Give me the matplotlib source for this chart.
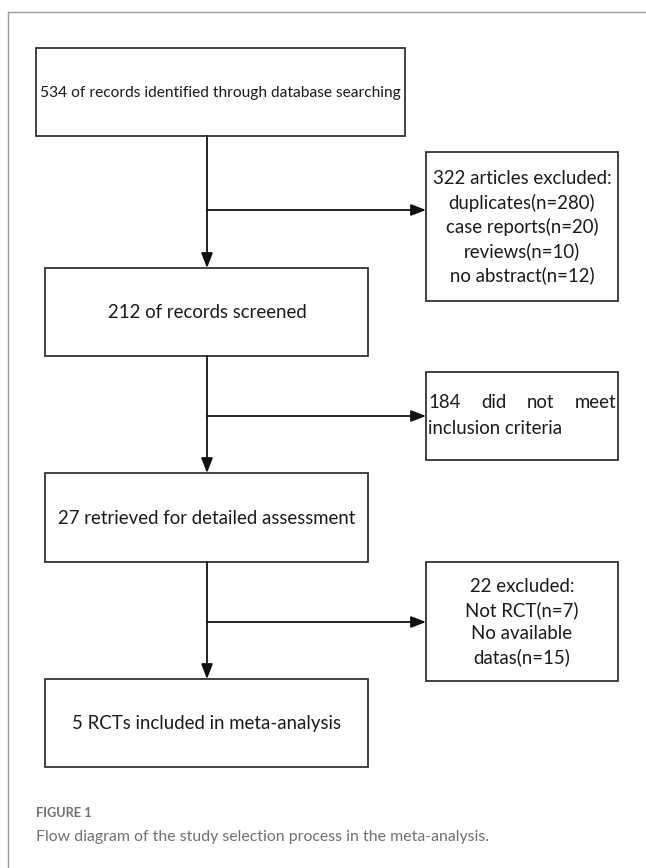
import matplotlib.pyplot as plt
from matplotlib.patches import Rectangle

plt.rcParams['font.family'] = ['Lato', 'DejaVu Sans']

# texts of the flow diagram
main_boxes = [
    '534 of records identified through database searching',
    '212 of records screened',
    '27 retrieved for detailed assessment',
    '5 RCTs included in meta-analysis',
]
excluded_boxes = [
    '322 articles excluded:\nduplicates(n=280)\ncase reports(n=20)\nreviews(n=10)\nno abstract(n=12)',
    None,  # justified text, drawn word by word below
    '22 excluded:\nNot RCT(n=7)\nNo available\ndatas(n=15)',
]
criteria_lines = [['184', 'did', 'not', 'meet'], ['inclusion', 'criteria']]
caption_head = 'FIGURE 1'
caption_text = 'Flow diagram of the study selection process in the meta-analysis.'

W, H = 646, 868
fig = plt.figure(figsize=(W / 100, H / 100), dpi=100)
ax = fig.add_axes([0, 0, 1, 1])
ax.set_xlim(0, W)
ax.set_ylim(H, 0)
ax.axis('off')

box_col = '#333333'
txt_col = '#1a1a1a'
lw = 1.3
fs = 13.4

# page frame (top + left rule)
ax.plot([8, W], [12, 12], color='#9a9a9a', lw=1.0)
ax.plot([8, 8], [12, H], color='#9a9a9a', lw=1.0)

# main boxes: (x0, y0, x1, y1)
main_geo = [(36, 48, 405, 136), (45, 268, 368, 356), (45, 473, 368, 562), (45, 679, 368, 767)]
for i, ((x0, y0, x1, y1), label) in enumerate(zip(main_geo, main_boxes)):
    ax.add_patch(Rectangle((x0, y0), x1 - x0, y1 - y0, fill=False, ec=box_col, lw=lw))
    ax.text((x0 + x1) / 2 if i == 0 else 207, (y0 + y1) / 2 + 1, label, ha='center', va='center',
            fontsize=11.2 if i == 0 else fs, color=txt_col)

# side boxes
side_geo = [(426, 152, 618, 301), (426, 372, 618, 460), (426, 562, 618, 681)]
for (x0, y0, x1, y1), label in zip(side_geo, excluded_boxes):
    ax.add_patch(Rectangle((x0, y0), x1 - x0, y1 - y0, fill=False, ec=box_col, lw=lw))
    if label:
        ax.text((x0 + x1) / 2, (y0 + y1) / 2 + 1, label, ha='center', va='center',
                fontsize=fs, color=txt_col, linespacing=1.42)

# justified text in the middle side box
fig.canvas.draw()
renderer = fig.canvas.get_renderer()
inv = ax.transData.inverted()
x0, x1 = 428, 616
for i, words in enumerate(criteria_lines):
    y = 403 + i * 25
    if i == len(criteria_lines) - 1:
        ax.text(x0, y, ' '.join(words), ha='left', va='center', fontsize=fs, color=txt_col)
        continue
    arts = [ax.text(0, y, w, ha='left', va='center', fontsize=fs, color=txt_col) for w in words]
    widths = []
    for a in arts:
        bb = a.get_window_extent(renderer)
        p0 = inv.transform((bb.x0, bb.y0))
        p1 = inv.transform((bb.x1, bb.y0))
        widths.append(p1[0] - p0[0])
    gap = (x1 - x0 - sum(widths)) / (len(words) - 1)
    x = x0
    for a, wd in zip(arts, widths):
        a.set_x(x)
        x += wd + gap

arrow = dict(arrowstyle='-|>,head_length=0.9,head_width=0.35', color='#111111', lw=lw,
             shrinkA=0, shrinkB=0)
# vertical arrows
for (_, _, _, ya), (_, yb, _, _) in zip(main_geo[:-1], main_geo[1:]):
    ax.annotate('', xy=(207, yb), xytext=(207, ya), arrowprops=arrow)
# branch arrows
for yb in [210, 416, 622]:
    ax.annotate('', xy=(426, yb), xytext=(207, yb), arrowprops=arrow)

# caption
ax.text(36, 813, caption_head, ha='left', va='center', fontsize=9.2, color='#707070', fontweight='bold')
ax.text(36, 837, caption_text, ha='left', va='center', fontsize=11.4, color='#707070')

fig.savefig('out.png', dpi=100)
